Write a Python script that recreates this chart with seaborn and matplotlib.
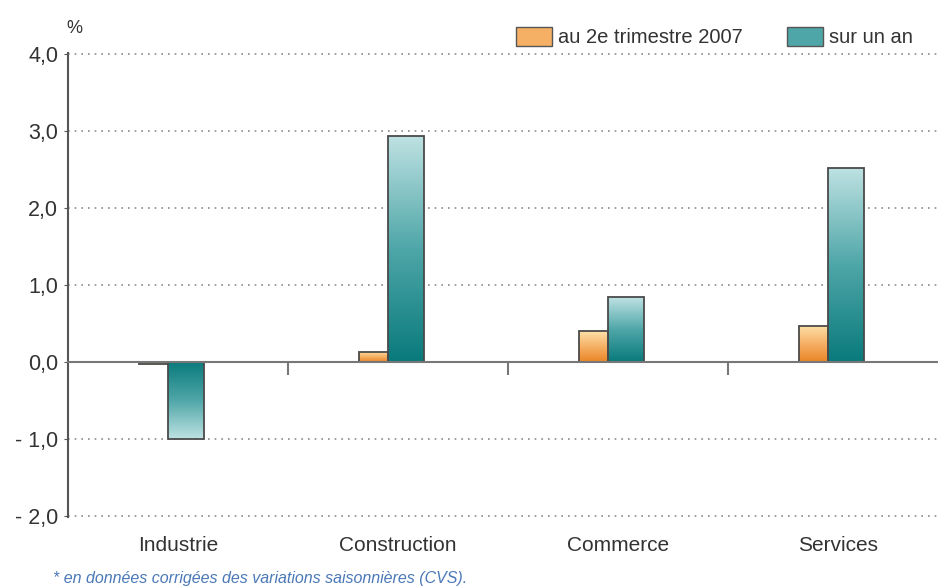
import matplotlib
matplotlib.use("Agg")
import matplotlib.pyplot as plt
import matplotlib.patches as mpatches
from matplotlib.colors import LinearSegmentedColormap
from matplotlib.ticker import FuncFormatter
import seaborn as sns
import pandas as pd
import numpy as np

# Données
categories = ["Industrie", "Construction", "Commerce", "Services"]
series = ["au 2e trimestre 2007", "sur un an"]
trimestre = [-0.02, 0.13, 0.40, 0.47]
sur_un_an = [-1.00, 2.94, 0.84, 2.52]
yticks = [-2, -1, 0, 1, 2, 3, 4]

dados = pd.DataFrame({
    "Secteur": categories * 2,
    "Série": [series[0]] * 4 + [series[1]] * 4,
    "Valeur": trimestre + sur_un_an,
})

sns.set_style("white")
plt.rcParams["font.family"] = ["Liberation Sans", "DejaVu Sans"]
texte = "#333333"

cmaps = {
    series[0]: LinearSegmentedColormap.from_list("orange", ["#e98526", "#f6b066", "#fde0a8"]),
    series[1]: LinearSegmentedColormap.from_list("teal", ["#097a7c", "#4fa6a8", "#bfe2e3"]),
}
cores = {series[0]: "#f0a050", series[1]: "#2a9092"}

fig = plt.figure(figsize=(9.38, 5.88), dpi=100)
ax = fig.add_axes([0.0725, 0.1207, 0.938, 0.7891])

sns.barplot(data=dados, x="Secteur", y="Valeur", hue="Série", hue_order=series,
            order=categories, palette=cores, width=0.3, legend=False, ax=ax)

# largeur et décalage des barres
decalage = 0.045
larguras = [0.132, 0.163]
for k, cont in enumerate(ax.containers):
    nome = series[k]
    for i, p in enumerate(cont.patches):
        jonction = i - decalage
        w = larguras[k]
        if k == 0:
            p.set_x(jonction - w)
        else:
            p.set_x(jonction)
        p.set_width(w)
        p.set_facecolor("none")
        p.set_edgecolor("#4a4a4a")
        p.set_linewidth(1.3)
        p.set_zorder(4)
        # dégradé
        x0 = p.get_x()
        h = p.get_height()
        grad = np.linspace(0, 1, 256).reshape(-1, 1)
        if h < 0:
            grad = grad[::-1]
        y0, y1 = min(0, h), max(0, h)
        im = ax.imshow(grad, cmap=cmaps[nome], aspect="auto", origin="lower",
                       extent=[x0, x0 + w, y0, y1], zorder=3)
        im.set_clip_path(p)

ax.set_xlim(-0.5, 3.5)
ax.set_ylim(-2.01, 4.01)
ax.set_yticks(yticks)
ax.yaxis.set_major_formatter(FuncFormatter(
    lambda v, pos: ("- " if v < 0 else "") + f"{abs(v):.1f}".replace(".", ",")))
ax.tick_params(axis="y", labelsize=15.5, labelcolor=texte, length=3, color="#555555",
               direction="out", pad=4, left=True)

# grille pointillée
for v in yticks:
    if v != 0:
        ax.axhline(v, color="#8a8a8a", lw=1.2, ls=(0, (1, 3)), zorder=1)

# axe horizontal à zéro avec séparateurs
ax.spines["bottom"].set_position(("data", 0))
ax.spines["bottom"].set_color("#777777")
ax.spines["bottom"].set_linewidth(1.5)
ax.spines["bottom"].set_zorder(5)
ax.set_xticks([0.5, 1.5, 2.5])
ax.set_xticklabels([])
ax.tick_params(axis="x", length=9, width=1.5, color="#777777", direction="out", bottom=True)

for s in ["top", "right"]:
    ax.spines[s].set_visible(False)
ax.spines["left"].set_color("#555555")
ax.spines["left"].set_linewidth(1.5)

sec = ax.secondary_xaxis(0)
sec.set_xticks(range(len(categories)))
sec.set_xticklabels(categories)
sec.tick_params(length=0, labelsize=15, labelcolor=texte, pad=14)
sec.spines["bottom"].set_visible(False)

ax.set_xlabel("")
ax.set_ylabel("")

fig.text(0.071, 0.952, "%", fontsize=13, color=texte, ha="left", va="center")

handles = [mpatches.Patch(facecolor=cmaps[s](0.5), edgecolor="#555555", lw=1) for s in series]
fig.legend(handles, series, loc="center right", bbox_to_anchor=(0.993, 0.937), ncol=2,
           frameon=False, fontsize=14.5, handlelength=1.8, handleheight=1.1,
           handletextpad=0.3, columnspacing=2.2, labelcolor=texte)

fig.text(0.056, 0.017, "* en données corrigées des variations saisonnières (CVS).",
         fontsize=11.5, style="italic", color="#4a78b8", ha="left", va="center")

plt.savefig("out.png", dpi=100)
